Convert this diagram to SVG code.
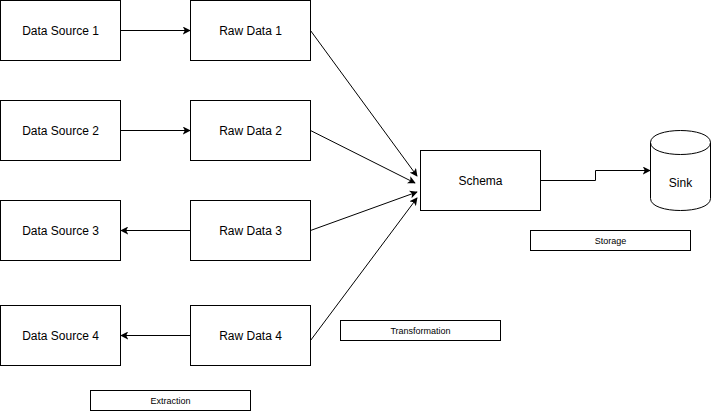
<svg xmlns="http://www.w3.org/2000/svg" width="711" height="411" viewBox="0 0 711 411">
<style>
.box{fill:#fff;stroke:#000;stroke-width:1}
.t{font-family:"Liberation Sans",Arial,sans-serif;font-size:12px;fill:#000;text-anchor:middle;dominant-baseline:central}
.s{font-family:"Liberation Sans",Arial,sans-serif;font-size:9px;fill:#000;text-anchor:middle;dominant-baseline:central}
.e{fill:none;stroke:#000;stroke-width:1}
</style>
<defs>
<marker id="arr" viewBox="0 0 10 10" refX="9" refY="5" markerWidth="8" markerHeight="8" markerUnits="userSpaceOnUse" orient="auto">
<path d="M0,0 L10,5 L0,10 L2.5,5 Z" fill="#000"/>
</marker>
</defs>
<rect width="711" height="411" fill="#fff"/>
<g id="connectors">
<path class="e" d="M120.5,30.5 L190,30.5" marker-end="url(#arr)"/>
<path class="e" d="M120.5,130.5 L190,130.5" marker-end="url(#arr)"/>
<path class="e" d="M190.5,230.5 L121,230.5" marker-end="url(#arr)"/>
<path class="e" d="M190.5,335.5 L121,335.5" marker-end="url(#arr)"/>
<path class="e" d="M310.5,30.5 L417,176" marker-end="url(#arr)"/>
<path class="e" d="M310.5,130.5 L415,183" marker-end="url(#arr)"/>
<path class="e" d="M310.5,230.5 L417,192" marker-end="url(#arr)"/>
<path class="e" d="M310.5,340.5 L417,198" marker-end="url(#arr)"/>
<path class="e" d="M540.5,180.5 L595.5,180.5 L595.5,170.5 L650,170.5" marker-end="url(#arr)"/>
</g>
<g id="ds1"><rect class="box" x="0.5" y="0.5" width="120" height="60"/><text class="t" x="60.5" y="30.5">Data Source 1</text></g>
<g id="ds2"><rect class="box" x="0.5" y="100.5" width="120" height="60"/><text class="t" x="60.5" y="130.5">Data Source 2</text></g>
<g id="ds3"><rect class="box" x="0.5" y="200.5" width="120" height="60"/><text class="t" x="60.5" y="230.5">Data Source 3</text></g>
<g id="ds4"><rect class="box" x="0.5" y="305.5" width="120" height="60"/><text class="t" x="60.5" y="335.5">Data Source 4</text></g>
<g id="rd1"><rect class="box" x="190.5" y="0.5" width="120" height="60"/><text class="t" x="250.5" y="30.5">Raw Data 1</text></g>
<g id="rd2"><rect class="box" x="190.5" y="100.5" width="120" height="60"/><text class="t" x="250.5" y="130.5">Raw Data 2</text></g>
<g id="rd3"><rect class="box" x="190.5" y="200.5" width="120" height="60"/><text class="t" x="250.5" y="230.5">Raw Data 3</text></g>
<g id="rd4"><rect class="box" x="190.5" y="305.5" width="120" height="60"/><text class="t" x="250.5" y="335.5">Raw Data 4</text></g>
<g id="schema"><rect class="box" x="420.5" y="150.5" width="120" height="60"/><text class="t" x="480.5" y="180.5">Schema</text></g>
<g id="sink">
<path class="box" d="M650.5,142.5 C650.5,126.5 710.5,126.5 710.5,142.5 L710.5,198.5 C710.5,214.5 650.5,214.5 650.5,198.5 Z"/>
<path class="e" d="M650.5,142.5 C650.5,158.5 710.5,158.5 710.5,142.5"/>
<text class="t" x="680.5" y="183">Sink</text>
</g>
<g id="storage"><rect class="box" x="530.5" y="230.5" width="160" height="20"/><text class="s" x="610.5" y="240.5">Storage</text></g>
<g id="transformation"><rect class="box" x="340.5" y="320.5" width="160" height="20"/><text class="s" x="420.5" y="330.5">Transformation</text></g>
<g id="extraction"><rect class="box" x="90.5" y="390.5" width="160" height="20"/><text class="s" x="170.5" y="400.5">Extraction</text></g>
</svg>
